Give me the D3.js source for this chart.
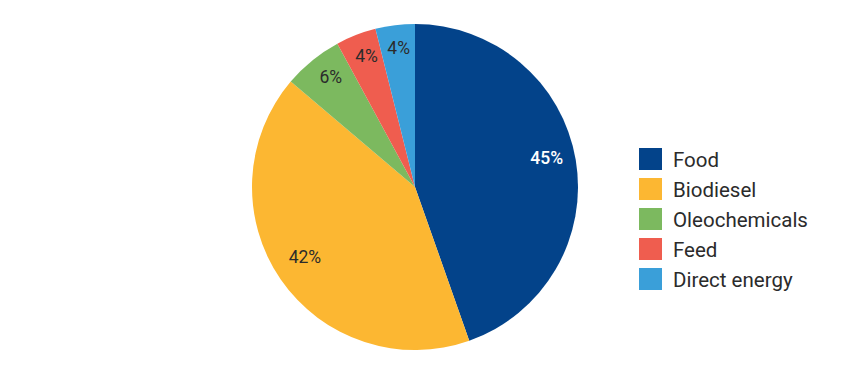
<!DOCTYPE html>
<html>
<head>
<meta charset="utf-8">
<script src="https://cdn.jsdelivr.net/npm/d3@7"></script>
<style>
  body { margin: 0; background: #fff; }
  svg { font-family: Roboto, "Noto Sans", sans-serif; }
</style>
</head>
<body>
<div id="chart"></div>
<script>
const categories = ['Food', 'Biodiesel', 'Oleochemicals', 'Feed', 'Direct energy'];
const shares = [44.6, 41.6, 5.9, 4.0, 3.9];
const colors = ['#03438a', '#fcb732', '#7cb95f', '#ef5d4f', '#3a9fd9'];

const width = 848, height = 385;
const cx = 415, cy = 187, radius = 163;

const svg = d3.select('#chart').append('svg')
  .attr('width', width)
  .attr('height', height);

const data = categories.map((c, i) => ({ name: c, value: shares[i], color: colors[i] }));

const pie = d3.pie().value(d => d.value).sort(null);
const arc = d3.arc().innerRadius(0).outerRadius(radius);
const labelArc = d3.arc().innerRadius(radius * 0.82).outerRadius(radius * 0.82);

const g = svg.append('g').attr('transform', `translate(${cx},${cy})`);
const arcs = pie(data);

g.selectAll('path')
  .data(arcs)
  .enter()
  .append('path')
  .attr('d', arc)
  .attr('fill', d => d.data.color);

g.selectAll('text')
  .data(arcs)
  .enter()
  .append('text')
  .attr('transform', d => `translate(${labelArc.centroid(d)})`)
  .attr('text-anchor', 'middle')
  .attr('font-size', 17.5)
  .attr('fill', (d, i) => i === 0 ? '#fff' : '#2b2b2b')
  .attr('font-weight', (d, i) => i === 0 ? 500 : 400)
  .text(d => Math.round(d.data.value) + '%');

// legend
const legend = svg.append('g').attr('transform', 'translate(639,148)');
const item = legend.selectAll('g')
  .data(data)
  .enter()
  .append('g')
  .attr('transform', (d, i) => `translate(0,${i * 30})`);

item.append('rect')
  .attr('width', 23)
  .attr('height', 22)
  .attr('fill', d => d.color);

item.append('text')
  .attr('x', 34)
  .attr('y', 18.5)
  .attr('font-size', 20.5)
  .attr('fill', '#2b2b2b')
  .text(d => d.name);
</script>
</body>
</html>
